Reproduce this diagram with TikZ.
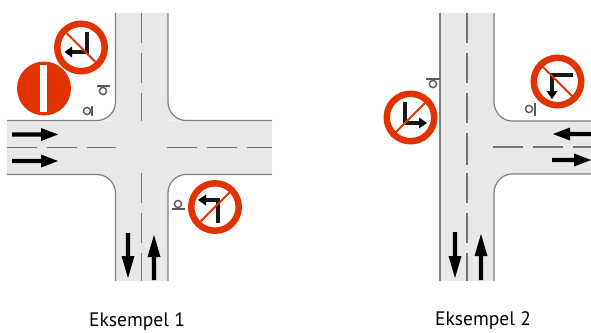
\documentclass[tikz,border=0pt]{standalone}
\usepackage{fontspec}
\setmainfont{PT Sans}
\definecolor{roadgrey}{HTML}{E8E8E8}
\definecolor{edgegrey}{HTML}{808080}
\definecolor{dashgrey}{HTML}{737373}
\definecolor{signred}{HTML}{E23200}
\tikzset{
  x=1pt,y=-1pt,
  road/.style={fill=roadgrey,draw=none},
  kerb/.style={draw=edgegrey,line width=1.2pt},
  centre/.style={draw=dashgrey,line width=1.9pt},
  signring/.style={circle,draw=signred,fill=white,line width=6.5pt,minimum size=47.5pt,inner sep=0pt},
  signbar/.style={signred,line width=1.8pt},
  turnline/.style={black!90,line width=3.8pt},
  postline/.style={draw=black!65,line width=1.4pt},
  caption/.style={font=\fontsize{19.5}{22}\selectfont,text=black,inner sep=0pt,anchor=base west},
}
% lane arrow: tail (#1), direction #2 (counter-clockwise on screen), length #3, head length #4
\newcommand{\lanearrow}[4]{%
  \begin{scope}[shift={(#1)},rotate=#2,x=1pt,y=1pt]
    \fill[black] (0,-2.2) -- (#3-#4,-2.2) -- (#3-#4,-6.5) -- (#3,0) -- (#3-#4,6.5) -- (#3-#4,2.2) -- (0,2.2) -- cycle;
  \end{scope}}
% small post symbol: circle centre #1, bar from #2 to #3
\newcommand{\postmark}[3]{%
  \draw[postline] (#1) circle (3.6);
  \draw[postline] (#2) -- (#3);}
\begin{document}
\begin{tikzpicture}
\useasboundingbox (0,0) rectangle (591,332);
% ---------- Example 1 road
\fill[road] (115,13) rectangle (168,281);
\fill[road] (7,120.5) rectangle (272,174.5);
\fill[road] (97,120.5) .. controls (107,120.5) and (115.5,112) .. (115.5,102) -- (115.5,120.5) -- cycle;
\fill[road] (168,102) .. controls (168,112) and (176,120.5) .. (186,120.5) -- (168,120.5) -- cycle;
\fill[road] (97,174.5) .. controls (107,174.5) and (115.5,183) .. (115.5,193) -- (115.5,174.5) -- cycle;
\fill[road] (186,174.5) .. controls (176,174.5) and (168,183) .. (168,193) -- (168,174.5) -- cycle;
\draw[kerb] (115.5,13) -- (115.5,102) .. controls (115.5,112) and (107,120.5) .. (97,120.5) -- (7,120.5);
\draw[kerb] (168,13) -- (168,102) .. controls (168,112) and (176,120.5) .. (186,120.5) -- (272,120.5);
\draw[kerb] (7,174.5) -- (97,174.5) .. controls (107,174.5) and (115.5,183) .. (115.5,193) -- (115.5,281);
\draw[kerb] (272,174.5) -- (186,174.5) .. controls (176,174.5) and (168,183) .. (168,193) -- (168,281);
\foreach \a/\b in {13/43,53/83,93/121,173/203,213/243,253/281}
  \draw[centre] (141.5,\a) -- (141.5,\b);
\foreach \a/\b in {7/37,47/77,87/116,167/197,207/237,247/272}
  \draw[centre] (\a,147.5) -- (\b,147.5);
\lanearrow{12,134.5}{0}{46}{17}
\lanearrow{12,161}{0}{46}{17}
\lanearrow{128,233}{-90}{45}{22}
\lanearrow{154,280}{90}{45}{22}
% ---------- Example 2 road
\fill[road] (440,13) rectangle (494,281);
\fill[road] (494,121) rectangle (591,174);
\fill[road] (494,102) .. controls (494,112) and (502,121) .. (512,121) -- (494,121) -- cycle;
\fill[road] (512,174) .. controls (502,174) and (494,183) .. (494,193) -- (494,174) -- cycle;
\draw[kerb] (440,13) -- (440,281);
\draw[kerb] (494,13) -- (494,102) .. controls (494,112) and (502,121) .. (512,121) -- (591,121);
\draw[kerb] (591,174) -- (512,174) .. controls (502,174) and (494,183) .. (494,193) -- (494,281);
\foreach \a/\b in {13/43,53/83,93/123,133/165,173/203,213/243,253/281}
  \draw[centre] (467,\a) -- (467,\b);
\foreach \a/\b in {493/523,533/563,573/591}
  \draw[centre] (\a,147) -- (\b,147);
\lanearrow{591,134}{180}{38}{17}
\lanearrow{552,160}{0}{39}{17}
\lanearrow{455,232}{-90}{46}{22}
\lanearrow{481,280}{90}{46}{22}
% ---------- post marks
\postmark{87,111}{92,106}{92,116}
\postmark{103,91}{97,86}{110,86}
\postmark{178,204}{172,209}{185,209}
\postmark{433,84}{426,79}{440,79}
\postmark{529,109}{535,103}{535,116}
% ---------- signs
\node[circle,fill=signred,minimum size=54pt,inner sep=0pt] (noentry) at (44,88.5) {};
\fill[white] (40,65) rectangle (47,112);
\node[signring] (s1) at (81,47.5) {};
\draw[turnline] (87,32) -- (87,52) -- (70,52);
\fill[black] (72,46.5) -- (64.5,52) -- (72,57.5) -- cycle;
\draw[signbar] (s1.135) -- (s1.-45);
\node[signring] (s2) at (215,207) {};
\draw[turnline] (218,223) -- (218,200) -- (203,200);
\fill[black] (206,194.5) -- (198,200) -- (206,205.5) -- cycle;
\draw[signbar] (s2.45) -- (s2.-135);
\node[signring] (s3) at (410.5,117.5) {};
\draw[turnline] (405,102) -- (405,123) -- (421,123);
\fill[black] (419,117.5) -- (427,123) -- (419,128.5) -- cycle;
\draw[signbar] (s3.45) -- (s3.-135);
\node[signring] (s4) at (557.5,81.5) {};
\draw[turnline] (573,75) -- (552,75) -- (552,92);
\fill[black] (546.5,91) -- (552,99) -- (557.5,91) -- cycle;
\draw[signbar] (s4.135) -- (s4.-45);
% ---------- captions
\node[caption] (c1) at (89,326.5) {Eksempel 1};
\node[caption] (c2) at (435,325) {Eksempel 2};
\end{tikzpicture}
\end{document}
